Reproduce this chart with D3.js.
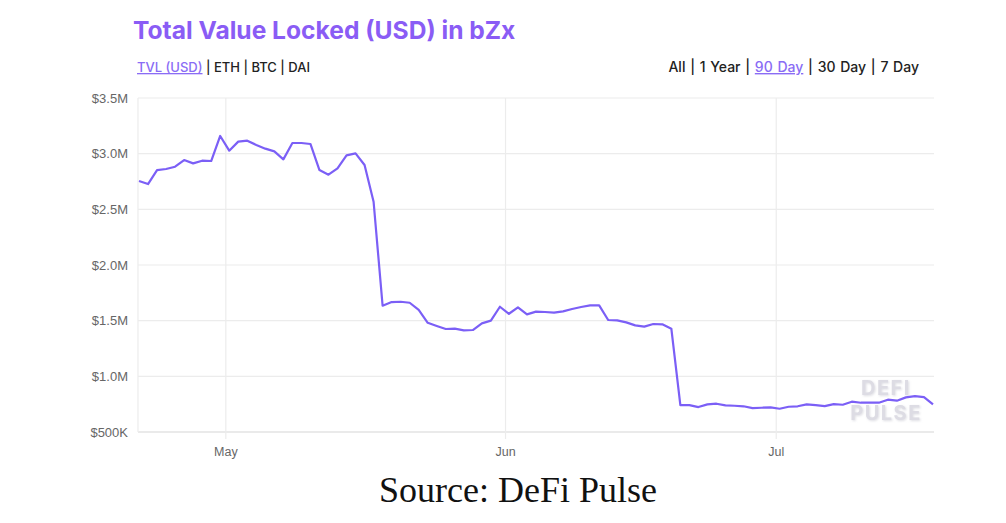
<!DOCTYPE html>
<html>
<head>
<meta charset="utf-8">
<script src="https://cdn.jsdelivr.net/npm/d3@7"></script>
<style>
  html, body { margin: 0; padding: 0; background: #fff; }
  svg { display: block; }
</style>
</head>
<body>
<svg id="chart" width="1006" height="523"></svg>
<script>
// daily TVL readings (USD millions), first day 2020-04-21
const startDay = "2020-04-21T09:00:00Z";
const tvlMillions = [
  2.754, 2.727, 2.853, 2.862, 2.883, 2.943, 2.913, 2.937, 2.934, 3.159,
  3.027, 3.108, 3.117, 3.078, 3.045, 3.021, 2.949, 3.096, 3.096, 3.087,
  2.853, 2.811, 2.868, 2.985, 3.003, 2.898, 2.568, 1.634, 1.667, 1.670,
  1.661, 1.596, 1.481, 1.452, 1.425, 1.428, 1.413, 1.416, 1.476, 1.500,
  1.625, 1.562, 1.620, 1.557, 1.581, 1.578, 1.572, 1.584, 1.605, 1.623,
  1.638, 1.638, 1.506, 1.503, 1.485, 1.458, 1.446, 1.470, 1.467, 1.428,
  0.742, 0.742, 0.724, 0.748, 0.754, 0.739, 0.736, 0.731, 0.715, 0.718,
  0.721, 0.709, 0.727, 0.731, 0.748, 0.742, 0.733, 0.751, 0.745, 0.772,
  0.763, 0.763, 0.763, 0.790, 0.781, 0.811, 0.823, 0.814, 0.748
];
const yTicks = [0.5, 1.0, 1.5, 2.0, 2.5, 3.0, 3.5];
const assetTabs = ["TVL (USD)", "ETH", "BTC", "DAI"];
const rangeTabs = ["All", "1 Year", "90 Day", "30 Day", "7 Day"];
const activeAsset = "TVL (USD)";
const activeRange = "90 Day";

const PURPLE = "#7b5ff6";
const UI_FONT = "Inter, 'Noto Sans', sans-serif";

const t0 = new Date(startDay);
const data = tvlMillions.map((v, i) => ({
  date: d3.utcDay.offset(t0, i),
  value: v,
}));

const svg = d3.select("#chart");
const m = { left: 138, right: 934, top: 98, bottom: 432 };

const x = d3.scaleUtc()
  .domain(d3.extent(data, (d) => d.date))
  .range([m.left + 1, m.right - 1]);
const y = d3.scaleLinear().domain([0.5, 3.5]).range([m.bottom, m.top]);

// title
svg.append("text")
  .attr("x", 133).attr("y", 39)
  .attr("font-family", UI_FONT)
  .attr("font-weight", 700)
  .attr("font-size", 24.6)
  .attr("fill", "#8a5cf5")
  .text("Total Value Locked (USD) in bZx");

// tab rows
function tabs(items, active, xPos, anchor, size, spacing) {
  const t = svg.append("text")
    .attr("x", xPos).attr("y", 72)
    .attr("font-family", UI_FONT)
    .attr("font-weight", 500)
    .attr("font-size", size)
    .attr("word-spacing", spacing)
    .attr("text-anchor", anchor)
    .attr("fill", "#222");
  items.forEach((s, i) => {
    if (i > 0) t.append("tspan").text(" | ");
    const sp = t.append("tspan").text(s);
    if (s === active) sp.attr("fill", "#8a6cf5").attr("text-decoration", "underline");
  });
}
tabs(assetTabs, activeAsset, 137, "start", 13, 0);
tabs(rangeTabs, activeRange, 919, "end", 14, 1);

// grid
const grid = svg.append("g");
grid.selectAll(".hg")
  .data(yTicks)
  .join("line")
  .attr("x1", m.left).attr("x2", m.right)
  .attr("y1", (d) => y(d)).attr("y2", (d) => y(d))
  .attr("stroke", (d) => (d === 0.5 ? "#d6d6d6" : "#ececec"))
  .attr("stroke-width", 1.2);

const monthTicks = x.ticks(d3.utcMonth.every(1));
grid.selectAll(".vg")
  .data([null, ...monthTicks])
  .join("line")
  .attr("x1", (d) => (d ? x(d) : m.left)).attr("x2", (d) => (d ? x(d) : m.left))
  .attr("y1", m.top).attr("y2", (d) => (d ? m.bottom + 7 : m.bottom))
  .attr("stroke", "#ececec")
  .attr("stroke-width", 1.2);

// axes labels
const fmtY = (v) => (v < 1 ? `$${v * 1000}K` : `$${v.toFixed(1)}M`);
svg.append("g")
  .selectAll("text")
  .data(yTicks)
  .join("text")
  .attr("x", 128)
  .attr("y", (d) => y(d) + 4.5)
  .attr("text-anchor", "end")
  .attr("font-family", "'Liberation Sans', Arial, sans-serif")
  .attr("font-size", 13)
  .attr("fill", "#666")
  .text(fmtY);

svg.append("g")
  .selectAll("text")
  .data(monthTicks)
  .join("text")
  .attr("x", (d) => x(d))
  .attr("y", 456)
  .attr("text-anchor", "middle")
  .attr("font-family", "'Liberation Sans', Arial, sans-serif")
  .attr("font-size", 12.5)
  .attr("fill", "#666")
  .text(d3.utcFormat("%b"));

// watermark
const defs = svg.append("defs");
const shadow = defs.append("filter").attr("id", "wmShadow");
shadow.append("feDropShadow")
  .attr("dx", 1).attr("dy", 1).attr("stdDeviation", 0.8)
  .attr("flood-color", "#c8c8d0").attr("flood-opacity", 0.6);

const wm = svg.append("g")
  .attr("font-family", UI_FONT)
  .attr("font-weight", 700)
  .attr("text-anchor", "middle")
  .attr("font-size", 20)
  .attr("letter-spacing", 1.5)
  .attr("fill", "#dddce4")
  .attr("filter", "url(#wmShadow)");
wm.append("text").attr("x", 886).attr("y", 395).text("DEFI");
wm.append("text").attr("x", 886).attr("y", 420).text("PULSE");

// line
svg.append("path")
  .datum(data)
  .attr("fill", "none")
  .attr("stroke", PURPLE)
  .attr("stroke-width", 2.2)
  .attr("stroke-linejoin", "round")
  .attr("d", d3.line().x((d) => x(d.date)).y((d) => y(d.value)));

// caption
svg.append("text")
  .attr("x", 518).attr("y", 502)
  .attr("text-anchor", "middle")
  .attr("font-family", "'Liberation Serif', 'Times New Roman', serif")
  .attr("font-size", 36)
  .attr("fill", "#111")
  .text("Source: DeFi Pulse");
</script>
</body>
</html>
